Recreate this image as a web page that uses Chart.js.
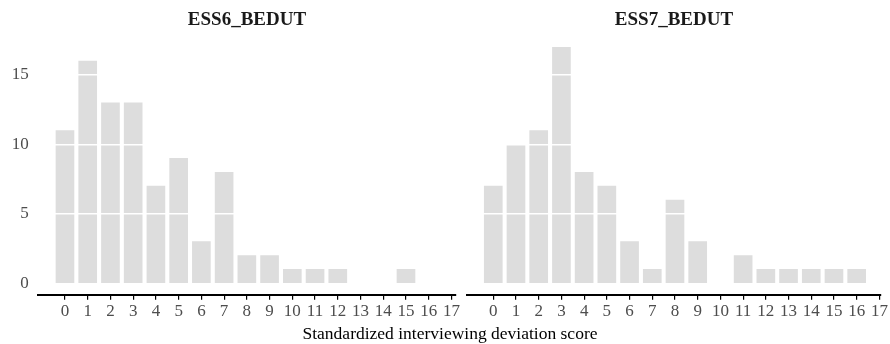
<!DOCTYPE html>
<html>
<head>
<meta charset="utf-8">
<script src="https://cdn.jsdelivr.net/npm/chart.js@4/dist/chart.umd.min.js"></script>
<style>
  html, body { margin: 0; padding: 0; background: #fff; }
  #wrap { position: relative; width: 890px; height: 344px; overflow: hidden; font-family: "Liberation Serif", "Times New Roman", serif; }
  canvas { position: absolute; top: 0; }
  .ttl { position: absolute; top: 6px; font-weight: bold; font-size: 19px; color: #1a1a1a; transform: translateX(-50%); white-space: nowrap; line-height: 26px; }
  #xlab { position: absolute; top: 322px; left: 450px; transform: translateX(-50%); font-size: 17.5px; color: #000; white-space: nowrap; line-height: 22px; }
</style>
</head>
<body>
<div id="wrap">
  <canvas id="c1" width="466" height="344" style="left:0px;width:466px;height:344px"></canvas>
  <canvas id="c2" width="430" height="344" style="left:460px;width:430px;height:344px"></canvas>
  <div class="ttl" id="t1" style="left:247px"></div>
  <div class="ttl" id="t2" style="left:674px"></div>
  <div id="xlab"></div>
</div>
<script>
// Score categories (standardized interviewing deviation score) and counts per survey round
const scores = [0, 1, 2, 3, 4, 5, 6, 7, 8, 9, 10, 11, 12, 13, 14, 15, 16];
const ess6Counts = [11, 16, 13, 13, 7, 9, 3, 8, 2, 2, 1, 1, 1, 0, 0, 1, 0];
const ess7Counts = [7, 10, 11, 17, 8, 7, 3, 1, 6, 3, 0, 2, 1, 1, 1, 1, 1];
const xTickValues = [0, 1, 2, 3, 4, 5, 6, 7, 8, 9, 10, 11, 12, 13, 14, 15, 16, 17];
const yTickValues = [0, 5, 10, 15];
const panelTitles = ['ESS6_BEDUT', 'ESS7_BEDUT'];
const xAxisTitle = 'Standardized interviewing deviation score';

document.getElementById('t1').textContent = panelTitles[0];
document.getElementById('t2').textContent = panelTitles[1];
document.getElementById('xlab').textContent = xAxisTitle;

const FONT = '"Liberation Serif", "Times New Roman", serif';
const TICK_COLOR = '#4d4d4d';

function makePanel(canvasId, counts, opts) {
  // empty bins are left out so no zero-height sliver is painted
  const points = scores
    .map((s, i) => ({ x: s, y: counts[i] }))
    .filter(p => p.y > 0);
  return new Chart(document.getElementById(canvasId), {
    type: 'bar',
    data: {
      datasets: [{
        data: points,
        backgroundColor: '#dddddd',
        borderWidth: 0,
        barThickness: 18
      }]
    },
    options: {
      responsive: false,
      animation: false,
      events: [],
      layout: { padding: { top: 40, bottom: 0, left: opts.padLeft, right: opts.padRight } },
      plugins: { legend: { display: false }, tooltip: { enabled: false }, title: { display: false } },
      scales: {
        x: {
          type: 'linear',
          offset: false,
          min: opts.xMin,
          max: opts.xMax,
          afterBuildTicks: (scale) => {
            scale.ticks = xTickValues.map(v => ({ value: v }));
          },
          afterFit: (scale) => { scale.height = 49.3; },
          ticks: {
            autoSkip: false,
            maxRotation: 0,
            padding: 2,
            color: TICK_COLOR,
            font: { family: FONT, size: 17 },
            callback: (v) => String(v)
          },
          grid: {
            offset: false,
            drawOnChartArea: false,
            drawTicks: true,
            tickLength: 5,
            color: '#000',
            lineWidth: 1.2
          },
          border: { display: true, color: '#000', width: 2 }
        },
        y: {
          type: 'linear',
          min: -0.82,
          max: 17.52,
          afterBuildTicks: (scale) => {
            scale.ticks = yTickValues.map(v => ({ value: v }));
          },
          afterFit: (scale) => { scale.width = opts.yWidth; },
          ticks: {
            display: opts.showY,
            padding: 9,
            color: TICK_COLOR,
            font: { family: FONT, size: 17 }
          },
          grid: {
            z: 1,
            drawTicks: false,
            lineWidth: 1.5,
            color: (ctx) => (ctx.tick && ctx.tick.value === 0) ? 'rgba(0,0,0,0)' : '#ffffff'
          },
          border: { display: false }
        }
      }
    }
  });
}

makePanel('c1', ess6Counts, { xMin: -1.2, xMax: 17.2, padLeft: 0, padRight: 10, yWidth: 37.7, showY: true });
makePanel('c2', ess7Counts, { xMin: -1.17, xMax: 17.07, padLeft: 6.7, padRight: 9, yWidth: 0, showY: false });
</script>
</body>
</html>
